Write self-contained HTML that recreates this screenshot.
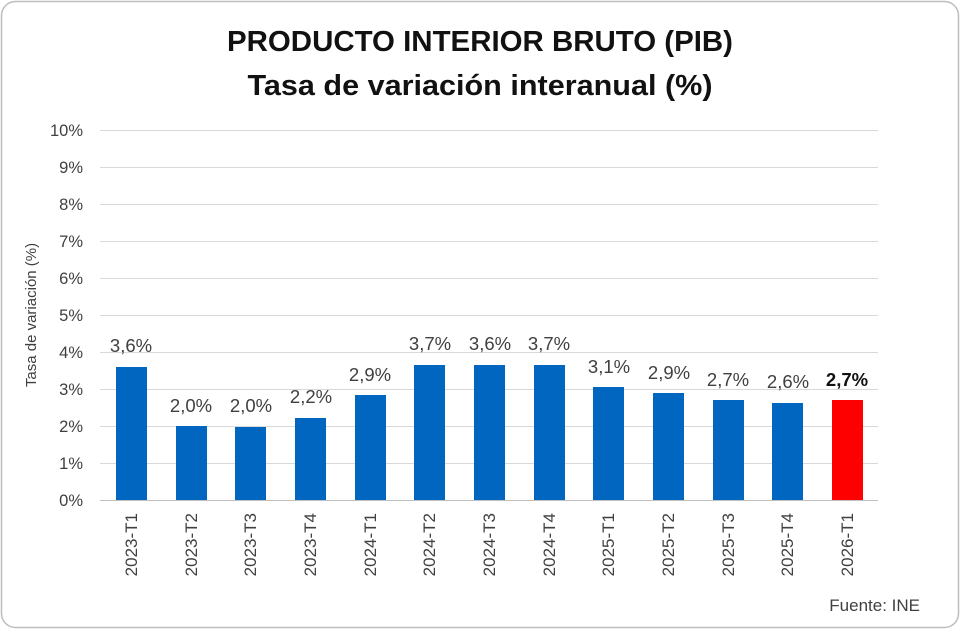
<!DOCTYPE html>
<html><head><meta charset="utf-8"><style>
html,body{margin:0;padding:0;background:#fff;}
svg{display:block;font-family:"Liberation Sans",sans-serif;}
</style></head><body>
<svg width="960" height="629" viewBox="0 0 960 629" xmlns="http://www.w3.org/2000/svg">
<rect x="1.5" y="1.5" width="957" height="626" rx="14" fill="#fff" stroke="#bdbdbd" stroke-width="1.5"/>
<text x="480" y="51" text-anchor="middle" font-size="29" font-weight="bold" fill="#111" textLength="506" lengthAdjust="spacingAndGlyphs">PRODUCTO INTERIOR BRUTO (PIB)</text>
<text x="480" y="95" text-anchor="middle" font-size="29" font-weight="bold" fill="#111" textLength="465" lengthAdjust="spacingAndGlyphs">Tasa de variación interanual (%)</text>
<g stroke="#d9d9d9" stroke-width="1">
<line x1="100" x2="878" y1="130.5" y2="130.5"/><line x1="100" x2="878" y1="167.5" y2="167.5"/>
<line x1="100" x2="878" y1="204.5" y2="204.5"/><line x1="100" x2="878" y1="241.5" y2="241.5"/>
<line x1="100" x2="878" y1="278.5" y2="278.5"/><line x1="100" x2="878" y1="315.5" y2="315.5"/>
<line x1="100" x2="878" y1="352.5" y2="352.5"/><line x1="100" x2="878" y1="389.5" y2="389.5"/>
<line x1="100" x2="878" y1="426.5" y2="426.5"/><line x1="100" x2="878" y1="463.5" y2="463.5"/>
<line x1="100" x2="878" y1="500.5" y2="500.5" stroke="#bfbfbf"/>
</g>
<g font-size="16.5" fill="#404040" text-anchor="end">
<text x="83" y="136">10%</text><text x="83" y="173">9%</text><text x="83" y="210">8%</text>
<text x="83" y="247">7%</text><text x="83" y="284">6%</text><text x="83" y="321">5%</text>
<text x="83" y="358">4%</text><text x="83" y="395">3%</text><text x="83" y="432">2%</text>
<text x="83" y="469">1%</text><text x="83" y="506">0%</text>
</g>
<text transform="translate(36,315) rotate(-90)" text-anchor="middle" font-size="15" fill="#404040">Tasa de variación (%)</text>
<g fill="#0066c0">
<rect x="116" y="367" width="31" height="133"/>
<rect x="176" y="426" width="31" height="74"/>
<rect x="235" y="427" width="31" height="73"/>
<rect x="295" y="418" width="31" height="82"/>
<rect x="355" y="395" width="31" height="105"/>
<rect x="414" y="365" width="31" height="135"/>
<rect x="474" y="365" width="31" height="135"/>
<rect x="534" y="365" width="31" height="135"/>
<rect x="593" y="387" width="31" height="113"/>
<rect x="653" y="393" width="31" height="107"/>
<rect x="713" y="400" width="31" height="100"/>
<rect x="772" y="403" width="31" height="97"/>
</g>
<rect x="832" y="400" width="31" height="100" fill="#ff0000"/>
<g font-size="18.5" fill="#404040" text-anchor="middle">
<text x="131" y="352">3,6%</text><text x="191" y="412">2,0%</text><text x="251" y="412">2,0%</text>
<text x="311" y="403">2,2%</text><text x="370" y="381">2,9%</text><text x="430" y="350">3,7%</text>
<text x="490" y="350">3,6%</text><text x="549" y="350">3,7%</text><text x="609" y="373">3,1%</text>
<text x="669" y="379">2,9%</text><text x="728" y="386">2,7%</text><text x="788" y="388">2,6%</text>
<text x="847" y="386" font-weight="bold" fill="#111">2,7%</text>
</g>
<g font-size="17" fill="#404040" text-anchor="end">
<text transform="translate(137,513) rotate(-90)">2023-T1</text>
<text transform="translate(197,513) rotate(-90)">2023-T2</text>
<text transform="translate(256,513) rotate(-90)">2023-T3</text>
<text transform="translate(316,513) rotate(-90)">2023-T4</text>
<text transform="translate(376,513) rotate(-90)">2024-T1</text>
<text transform="translate(435,513) rotate(-90)">2024-T2</text>
<text transform="translate(495,513) rotate(-90)">2024-T3</text>
<text transform="translate(555,513) rotate(-90)">2024-T4</text>
<text transform="translate(614,513) rotate(-90)">2025-T1</text>
<text transform="translate(674,513) rotate(-90)">2025-T2</text>
<text transform="translate(734,513) rotate(-90)">2025-T3</text>
<text transform="translate(793,513) rotate(-90)">2025-T4</text>
<text transform="translate(853,513) rotate(-90)">2026-T1</text>
</g>
<text x="920" y="611" text-anchor="end" font-size="17" fill="#404040">Fuente: INE</text>
</svg>
</body></html>
